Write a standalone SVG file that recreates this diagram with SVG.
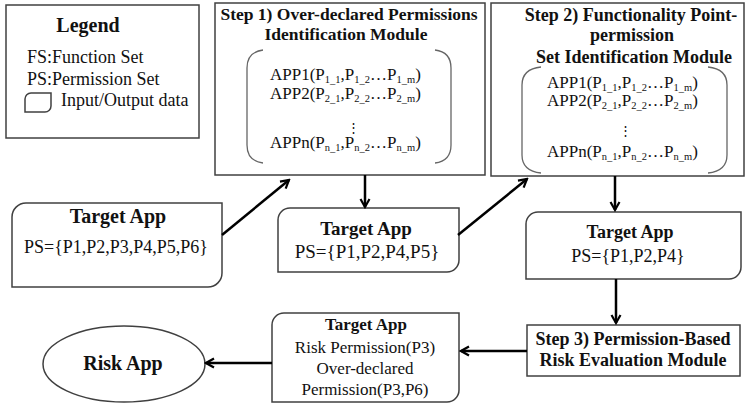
<svg xmlns="http://www.w3.org/2000/svg" width="750" height="407" viewBox="0 0 750 407">
<style>
text{font-family:"Liberation Serif","Times New Roman",serif;fill:#111;}
.b{font-weight:bold;}
.c{text-anchor:middle;}
.box{fill:#fff;stroke:#404040;stroke-width:1.5;}
.brk{fill:none;stroke:#666;stroke-width:1.3;}
.conn{stroke:#000;stroke-width:2.5;fill:none;marker-end:url(#ah);}
.app{font-size:17px;}
.sub{font-size:10.5px;}
</style>
<defs>
<marker id="ah" viewBox="0 0 12 12" refX="10" refY="6" markerWidth="12" markerHeight="12" markerUnits="userSpaceOnUse" orient="auto">
<path d="M2,1.5 L10,6 L2,10.5" fill="none" stroke="#000" stroke-width="2.2"/>
</marker>
</defs>
<rect width="750" height="407" fill="#fff"/>

<g id="legend">
<rect class="box" x="6" y="5" width="193" height="133"/>
<text class="b c" x="88" y="32" font-size="20">Legend</text>
<text x="27" y="63" font-size="18">FS:Function Set</text>
<text x="27" y="85" font-size="18">PS:Permission Set</text>
<path class="box" d="M31,93 H51 V106 A6,6 0 0 1 45,112 H25 V99 A6,6 0 0 1 31,93 Z"/>
<text x="61" y="106" font-size="18">Input/Output data</text>
</g>

<g id="step1">
<rect class="box" x="215" y="3" width="270" height="172"/>
<text class="b c" x="349" y="20" font-size="17.5">Step 1) Over-declared Permissions</text>
<text class="b c" x="346" y="40" font-size="17.5">Identification Module</text>
<path class="brk" d="M263,50 Q247,52 247,68 V145 Q247,161 263,163"/>
<path class="brk" d="M435,50 Q451,52 451,68 V145 Q451,161 435,163"/>
<text class="app" x="270" y="80">APP1(P<tspan class="sub" dy="3">1_1</tspan><tspan dy="-3">,P</tspan><tspan class="sub" dy="3">1_2</tspan><tspan dy="-3">…P</tspan><tspan class="sub" dy="3">1_m</tspan><tspan dy="-3">)</tspan></text>
<text class="app" x="270" y="99">APP2(P<tspan class="sub" dy="3">2_1</tspan><tspan dy="-3">,P</tspan><tspan class="sub" dy="3">2_2</tspan><tspan dy="-3">…P</tspan><tspan class="sub" dy="3">2_m</tspan><tspan dy="-3">)</tspan></text>
<text class="c" x="353" y="132" font-size="13" style="font-family:'DejaVu Serif',serif">⋮</text>
<text class="app" x="270" y="148">APPn(P<tspan class="sub" dy="3">n_1</tspan><tspan dy="-3">,P</tspan><tspan class="sub" dy="3">n_2</tspan><tspan dy="-3">…P</tspan><tspan class="sub" dy="3">n_m</tspan><tspan dy="-3">)</tspan></text>
</g>

<g id="step2">
<rect class="box" x="491" y="3" width="253" height="173"/>
<text class="b c" x="631" y="21" font-size="18">Step 2) Functionality Point-</text>
<text class="b c" x="632" y="41" font-size="18">permission</text>
<text class="b c" x="634" y="63" font-size="18">Set Identification Module</text>
<path class="brk" d="M541,67 Q522,69 522,85 V155 Q522,171 541,173"/>
<path class="brk" d="M708,67 Q727,69 727,85 V155 Q727,171 708,173"/>
<text class="app" x="547" y="88">APP1(P<tspan class="sub" dy="3">1_1</tspan><tspan dy="-3">,P</tspan><tspan class="sub" dy="3">1_2</tspan><tspan dy="-3">…P</tspan><tspan class="sub" dy="3">1_m</tspan><tspan dy="-3">)</tspan></text>
<text class="app" x="547" y="106">APP2(P<tspan class="sub" dy="3">2_1</tspan><tspan dy="-3">,P</tspan><tspan class="sub" dy="3">2_2</tspan><tspan dy="-3">…P</tspan><tspan class="sub" dy="3">2_m</tspan><tspan dy="-3">)</tspan></text>
<text class="c" x="625" y="135" font-size="13" style="font-family:'DejaVu Serif',serif">⋮</text>
<text class="app" x="547" y="157">APPn(P<tspan class="sub" dy="3">n_1</tspan><tspan dy="-3">,P</tspan><tspan class="sub" dy="3">n_2</tspan><tspan dy="-3">…P</tspan><tspan class="sub" dy="3">n_m</tspan><tspan dy="-3">)</tspan></text>
</g>

<g id="target1">
<path class="box" d="M26,203 H222 V273 A14,14 0 0 1 208,287 H12 V217 A14,14 0 0 1 26,203 Z"/>
<text class="b c" x="118" y="223" font-size="20">Target App</text>
<text class="c" x="116" y="253" font-size="18">PS={P1,P2,P3,P4,P5,P6}</text>
</g>

<g id="target2">
<path class="box" d="M290,208 H459 V260 A12,12 0 0 1 447,272 H278 V220 A12,12 0 0 1 290,208 Z"/>
<text class="b c" x="366" y="235" font-size="19">Target App</text>
<text class="c" x="367" y="258" font-size="19">PS={P1,P2,P4,P5}</text>
</g>

<g id="target3">
<path class="box" d="M538,212 H741 V267 A12,12 0 0 1 729,279 H526 V224 A12,12 0 0 1 538,212 Z"/>
<text class="b c" x="630" y="238" font-size="18">Target App</text>
<text class="c" x="628" y="262" font-size="18">PS={P1,P2,P4}</text>
</g>

<g id="step3">
<rect class="box" x="527" y="325" width="213" height="51"/>
<text class="b c" x="633" y="345" font-size="18">Step 3) Permission-Based</text>
<text class="b c" x="633" y="366" font-size="18">Risk Evaluation Module</text>
</g>

<g id="target4">
<path class="box" d="M284,313 H459 V390 A12,12 0 0 1 447,402 H272 V325 A12,12 0 0 1 284,313 Z"/>
<text class="b c" x="366" y="330" font-size="17">Target App</text>
<text class="c" x="365" y="353" font-size="17">Risk Permission(P3)</text>
<text class="c" x="365" y="374" font-size="17">Over-declared</text>
<text class="c" x="365" y="395" font-size="17">Permission(P3,P6)</text>
</g>

<g id="riskapp">
<ellipse class="box" cx="124" cy="364" rx="81" ry="38"/>
<text class="b c" x="123" y="370" font-size="20">Risk App</text>
</g>

<g id="connectors">
<line class="conn" x1="222" y1="235" x2="289" y2="180"/>
<line class="conn" x1="365" y1="175" x2="365" y2="207"/>
<line class="conn" x1="458" y1="235" x2="527" y2="179"/>
<line class="conn" x1="615" y1="176" x2="615" y2="210"/>
<line class="conn" x1="616" y1="279" x2="616" y2="323"/>
<line class="conn" x1="527" y1="351" x2="461" y2="351"/>
<line class="conn" x1="272" y1="363" x2="206" y2="363"/>
</g>
</svg>
